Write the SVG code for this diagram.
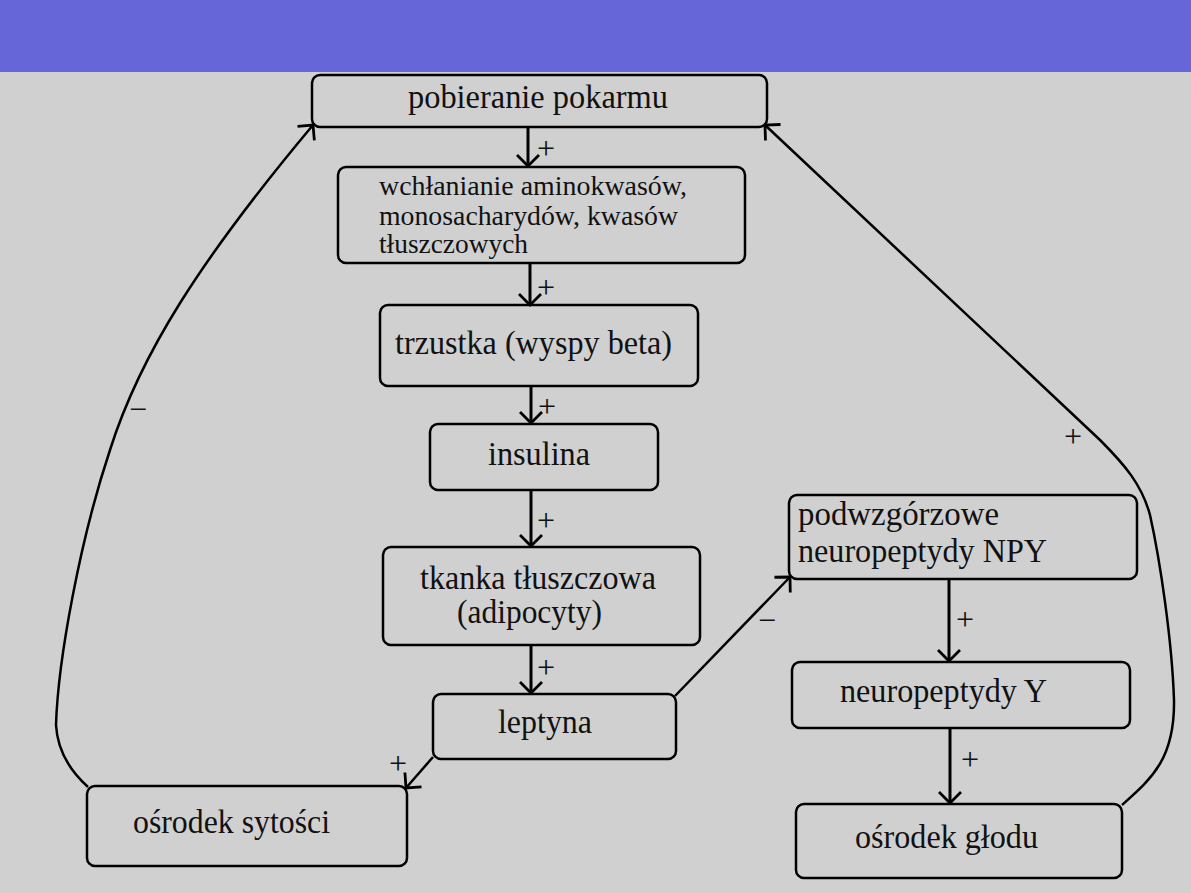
<svg xmlns="http://www.w3.org/2000/svg" width="1191" height="893" viewBox="0 0 1191 893">
<style>
.bg{fill:#d0d0d0}
.bar{fill:#6666d8}
.box{fill:none;stroke:#000;stroke-width:2.5}
.t{font-family:"Liberation Serif","Times New Roman",serif;font-size:34px;fill:#111}
.ts{font-family:"Liberation Serif","Times New Roman",serif;font-size:28px;fill:#111}
.sg{font-family:"Liberation Serif","Times New Roman",serif;font-size:32px;fill:#111;text-anchor:middle}
.ar{fill:none;stroke:#000;stroke-width:3;marker-end:url(#ah)}
.cv{fill:none;stroke:#000;stroke-width:2.5;marker-end:url(#ah)}
</style>
<defs>
<marker id="ah" viewBox="-14 -14 16 28" refX="0" refY="0" markerWidth="16" markerHeight="28" markerUnits="userSpaceOnUse" orient="auto" overflow="visible">
<path d="M-11,-11 L0,0 L-11,11" fill="none" stroke="#000" stroke-width="2.8"/>
</marker>
</defs>
<rect class="bg" x="0" y="0" width="1191" height="893"/>
<rect class="bar" x="0" y="0" width="1191" height="72"/>

<g id="n-pobieranie">
<rect class="box" x="312" y="75" width="455" height="52" rx="8"/>
<text class="t" x="408" y="108" textLength="260" lengthAdjust="spacingAndGlyphs">pobieranie pokarmu</text>
</g>
<g id="n-wchlanianie">
<rect class="box" x="338" y="167" width="407" height="96" rx="8"/>
<text class="ts" x="379" y="195" textLength="308" lengthAdjust="spacingAndGlyphs">wchłanianie aminokwasów,</text>
<text class="ts" x="379" y="225" textLength="299" lengthAdjust="spacingAndGlyphs">monosacharydów, kwasów</text>
<text class="ts" x="379" y="253" textLength="149" lengthAdjust="spacingAndGlyphs">tłuszczowych</text>
</g>
<g id="n-trzustka">
<rect class="box" x="380" y="305" width="318" height="81" rx="8"/>
<text class="t" x="395" y="354" textLength="277" lengthAdjust="spacingAndGlyphs">trzustka (wyspy beta)</text>
</g>
<g id="n-insulina">
<rect class="box" x="430" y="424" width="228" height="66" rx="8"/>
<text class="t" x="488" y="465" textLength="102" lengthAdjust="spacingAndGlyphs">insulina</text>
</g>
<g id="n-tkanka">
<rect class="box" x="383" y="547" width="317" height="98" rx="8"/>
<text class="t" x="420" y="589" textLength="236" lengthAdjust="spacingAndGlyphs">tkanka tłuszczowa</text>
<text class="t" x="457" y="623" textLength="145" lengthAdjust="spacingAndGlyphs">(adipocyty)</text>
</g>
<g id="n-leptyna">
<rect class="box" x="433" y="694" width="243" height="65" rx="8"/>
<text class="t" x="498" y="733" textLength="94" lengthAdjust="spacingAndGlyphs">leptyna</text>
</g>
<g id="n-sytosci">
<rect class="box" x="87" y="786" width="320" height="80" rx="8"/>
<text class="t" x="133" y="833" textLength="197" lengthAdjust="spacingAndGlyphs">ośrodek sytości</text>
</g>
<g id="n-podwzgorzowe">
<rect class="box" x="789" y="495" width="348" height="84" rx="8"/>
<text class="t" x="798" y="525" textLength="201" lengthAdjust="spacingAndGlyphs">podwzgórzowe</text>
<text class="t" x="798" y="562" textLength="249" lengthAdjust="spacingAndGlyphs">neuropeptydy NPY</text>
</g>
<g id="n-neuropeptydyY">
<rect class="box" x="792" y="662" width="338" height="66" rx="8"/>
<text class="t" x="840" y="702" textLength="207" lengthAdjust="spacingAndGlyphs">neuropeptydy Y</text>
</g>
<g id="n-glodu">
<rect class="box" x="796" y="804" width="326" height="74" rx="8"/>
<text class="t" x="855" y="848" textLength="183" lengthAdjust="spacingAndGlyphs">ośrodek głodu</text>
</g>

<g id="connectors">
<line class="ar" x1="528" y1="127" x2="528" y2="166"/>
<line class="ar" x1="530" y1="263" x2="530" y2="305"/>
<line class="ar" x1="531" y1="386" x2="531" y2="423"/>
<line class="ar" x1="531" y1="490" x2="531" y2="546"/>
<line class="ar" x1="531" y1="645" x2="531" y2="693"/>
<line class="ar" x1="949" y1="579" x2="949" y2="661"/>
<line class="ar" x1="950" y1="728" x2="950" y2="803"/>
<line class="cv" x1="675" y1="696" x2="790" y2="577"/>
<line class="cv" x1="433" y1="757" x2="406" y2="788"/>
<path class="cv" d="M88,787 Q58,760 56,725 C58,660 80,540 110,450 C140,355 200,260 313,125"/>
<path class="cv" d="M1122,805 C1150,780 1175,760 1174,700 C1172,640 1160,560 1150,515 C1142,485 1125,465 1100,440 L765,125"/>
<text class="sg" x="546" y="159">+</text>
<text class="sg" x="546" y="298">+</text>
<text class="sg" x="547" y="417">+</text>
<text class="sg" x="546" y="531">+</text>
<text class="sg" x="546" y="678">+</text>
<text class="sg" x="398" y="774">+</text>
<text class="sg" x="965" y="630">+</text>
<text class="sg" x="970" y="770">+</text>
<text class="sg" x="1073" y="447">+</text>
<text class="sg" x="767" y="631">−</text>
<text class="sg" x="138" y="420">−</text>
</g>
</svg>
